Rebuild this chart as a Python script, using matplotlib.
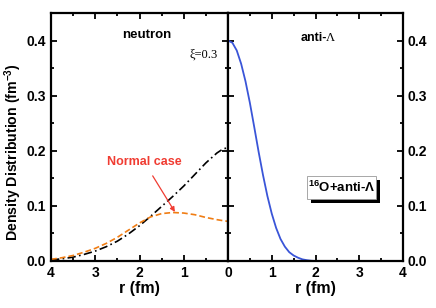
import numpy as np
import matplotlib
matplotlib.use("Agg")
import matplotlib.pyplot as plt
from matplotlib.patches import Rectangle

# neutron density, xi = 0.3 (black dash-dot) and normal case (orange dashed)
r_n = [4.0, 3.75, 3.5, 3.25, 3.0, 2.75, 2.5, 2.25, 2.0, 1.75, 1.5, 1.25, 1.0, 0.75, 0.5, 0.25, 0.1, 0.0]
rho_xi = [0.002, 0.004, 0.007, 0.012, 0.018, 0.026, 0.036, 0.049, 0.064, 0.081, 0.099, 0.117, 0.136, 0.157, 0.178, 0.196, 0.204, 0.205]
rho_normal = [0.003, 0.006, 0.010, 0.016, 0.023, 0.032, 0.043, 0.056, 0.069, 0.080, 0.086, 0.088, 0.087, 0.084, 0.079, 0.075, 0.073, 0.072]

# anti-Lambda density (blue)
r_lam = [0.0, 0.1, 0.2, 0.3, 0.4, 0.5, 0.6, 0.7, 0.8, 0.9, 1.0, 1.1, 1.2, 1.3, 1.4, 1.5, 1.6, 1.7, 1.8, 1.9, 2.0, 2.5, 3.0, 3.5, 4.0]
rho_lam = [0.400, 0.396, 0.382, 0.358, 0.326, 0.287, 0.243, 0.198, 0.156, 0.118, 0.086, 0.060, 0.040, 0.026, 0.016, 0.010, 0.006, 0.003, 0.0015, 0.0005, 0.0, 0.0, 0.0, 0.0, 0.0]

plt.rcParams['font.family'] = ['Liberation Sans', 'DejaVu Sans']
plt.rcParams['mathtext.fontset'] = 'custom'
plt.rcParams['mathtext.rm'] = 'Liberation Sans:bold'
plt.rcParams['mathtext.bf'] = 'Liberation Sans:bold'

fig = plt.figure(figsize=(4.36, 3.08), dpi=100)
ax1 = fig.add_axes([51 / 436, 47 / 308, 177 / 436, 248 / 308])
ax2 = fig.add_axes([228 / 436, 47 / 308, 175 / 436, 248 / 308])

ax1.plot(r_n, rho_xi, color='black', lw=1.2, dashes=[5, 2, 1, 2])
ax1.plot(r_n, rho_normal, color='#f07d14', lw=1.2, dashes=[3.5, 1.8])
ax2.plot(r_lam, rho_lam, color='#3a55d8', lw=1.3)

for ax in (ax1, ax2):
    ax.set_ylim(0, 0.45)
    ax.set_yticks([0.0, 0.1, 0.2, 0.3, 0.4])
    ax.set_yticks(np.arange(0.05, 0.45, 0.1), minor=True)
    ax.set_xticks([0, 1, 2, 3, 4])
    ax.set_xticks([0.5, 1.5, 2.5, 3.5], minor=True)
    ax.tick_params(which='both', direction='in', top=True, right=True, left=True,
                   width=1.3, labelsize=10)
    ax.tick_params(which='major', length=4)
    ax.tick_params(which='minor', length=2.5)
    for s in ax.spines.values():
        s.set_linewidth(1.6)
    ax.set_xlabel('r (fm)', fontsize=11.5, fontweight='bold', labelpad=1)

ax1.set_xlim(4, 0)
ax1.set_xticklabels(['0', '1', '2', '3', '4'], fontweight='bold')
ax1.xaxis.get_major_ticks()[0].label1.set_visible(False)
ax1.set_yticklabels(['0.0', '0.1', '0.2', '0.3', '0.4'], fontweight='bold')
ax1.set_ylabel(r'Density Distribution (fm$^{-3}$)', fontsize=10.2, fontweight='bold', va='center')
ax1.yaxis.set_label_coords(-0.215, 0.44)

ax2.set_xlim(0, 4)
ax2.yaxis.tick_right()
ax2.tick_params(which='both', left=True, right=True, labelleft=False, labelright=True)
ax2.set_yticklabels(['0.0', '0.1', '0.2', '0.3', '0.4'], fontweight='bold')
ax2.set_xticklabels(['0', '1', '2', '3', '4'], fontweight='bold')

ax1.text(1.84, 0.41, 'neutron', fontsize=9.5, fontweight='bold', ha='center', va='center')
ax1.text(0.55, 0.374, 'ξ=0.3', fontsize=9, family='Liberation Serif', ha='center', va='center')
ax1.annotate('Normal case', xy=(1.2, 0.089), xytext=(1.89, 0.179),
             color='#f03c32', fontsize=9, fontweight='bold', ha='center', va='center',
             arrowprops=dict(arrowstyle='-|>', color='#f03c32', lw=0.9, mutation_scale=7,
                             shrinkA=4, shrinkB=0))

ax2.text(1.95, 0.405, 'anti-', fontsize=9, fontweight='bold', ha='center', va='center')
ax2.text(2.33, 0.405, 'Λ', fontsize=9, family='Liberation Serif', ha='center', va='center')

# boxed label with shadow
bx, by, bw, bh = 1.8, 0.113, 1.58, 0.042
ax2.add_patch(Rectangle((bx + 0.09, by - 0.008), bw, bh, fc='black', ec='black', lw=0))
ax2.add_patch(Rectangle((bx, by), bw, bh, fc='white', ec='#999999', lw=0.6))
ax2.text(bx + bw / 2, by + bh / 2, r'$^{16}$O+anti-$\Lambda$', fontsize=9.5,
         fontweight='bold', ha='center', va='center')

fig.savefig('out.png', dpi=100)
